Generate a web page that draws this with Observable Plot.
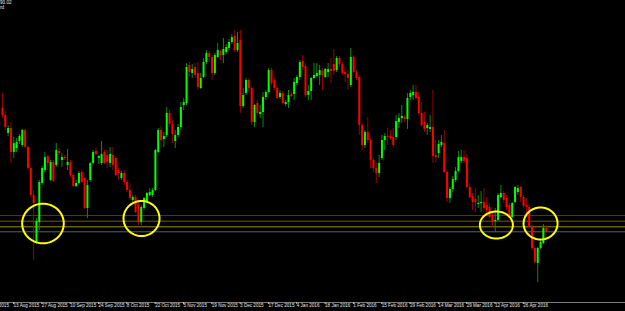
<!DOCTYPE html>
<html><head><meta charset="utf-8">
<script src="https://cdn.jsdelivr.net/npm/d3@7"></script>
<script src="https://cdn.jsdelivr.net/npm/@observablehq/plot@0.6"></script>
<style>
html,body{margin:0;padding:0;background:#000;}
#wrap{position:relative;width:625px;height:311px;overflow:hidden;background:#000;}
#hdr{position:absolute;left:0;top:0;font:4.6px/5px "Liberation Sans",Arial,sans-serif;color:#e8e8e8;white-space:pre;}
</style></head><body>
<div id="wrap"><div id="hdr">90.02
rd</div></div>
<script>
// Daily candles, first bar = 7 Aug 2015 (bar index -4), bar 0 = 13 Aug 2015
const firstBar = -4;
const open = [
109.2,108.5,106.7,107.2,104.8,105.2,105.9,105.5,107.0,105.3,
103.2,100.5,95.7,97.8,101.7,103.0,104.4,102.0,103.8,103.5,
104.9,104.0,104.3,103.5,103.8,102.5,101.4,101.7,102.8,102.2,
99.2,102.0,103.7,104.9,104.2,103.7,104.8,104.5,103.7,104.5,
104.2,103.0,102.2,102.7,101.8,101.0,100.0,100.3,99.5,97.8,
99.2,99.8,100.5,100.5,101.0,104.8,107.0,106.1,106.5,108.7,
107.6,105.9,106.5,107.3,109.5,109.7,113.5,112.7,113.3,112.7,
111.2,112.3,113.8,114.7,114.3,112.7,114.3,114.9,114.5,114.8,
115.2,115.8,116.4,115.0,116.0,109.4,110.7,112.0,111.2,107.8,
109.7,108.6,108.8,110.3,110.8,113.0,112.0,111.2,110.3,110.7,
109.6,109.8,110.6,110.6,111.7,112.3,113.9,113.4,110.5,110.9,
112.2,112.4,112.5,112.9,112.3,112.8,113.1,113.6,113.0,114.2,
113.6,112.8,112.6,111.5,114.3,112.8,112.3,107.5,105.5,106.8,
106.0,104.0,103.2,102.7,104.2,106.0,106.4,106.4,106.3,106.3,
107.8,108.2,108.3,108.1,110.3,110.5,110.8,110.3,108.7,107.8,
107.2,107.1,107.3,104.5,104.7,105.5,105.7,102.8,100.2,101.1,
102.0,102.9,103.9,104.3,104.2,101.3,100.4,100.1,99.6,99.7,
99.8,99.5,99.3,98.5,97.9,98.0,100.3,100.7,100.2,99.5,
98.3,99.8,100.8,101.3,100.3,99.5,99.3,97.3,95.2,93.7,
95.2,95.7,97.2];
const high = [
110.7,108.9,107.5,107.8,106.3,106.2,106.6,107.1,107.1,105.4,
103.3,101.0,98.2,102.0,103.4,104.8,104.5,104.0,104.0,105.7,
105.2,104.7,104.5,105.1,104.0,102.7,102.0,102.9,103.0,102.3,
102.0,103.8,105.0,105.2,104.5,105.9,105.0,105.0,105.3,105.3,
104.4,103.2,102.9,103.0,102.0,101.7,100.5,100.5,99.9,99.5,
100.3,100.8,101.2,101.2,105.1,107.2,107.4,106.8,109.3,109.0,
108.0,107.0,107.6,109.8,110.2,113.7,113.8,113.6,113.7,113.8,
112.7,114.2,115.0,114.9,114.5,114.7,115.7,115.0,116.2,115.6,
116.1,116.6,117.0,116.8,117.0,111.2,112.2,112.2,111.4,109.6,
110.0,109.5,110.8,111.0,113.2,113.2,112.2,111.4,111.0,110.9,
110.0,111.0,110.8,112.2,112.5,114.0,114.5,113.7,111.5,112.3,
113.7,113.7,113.5,113.2,113.2,113.7,114.2,115.1,114.4,114.4,
113.8,113.2,113.0,115.2,114.5,113.0,112.5,107.7,107.0,108.3,
106.2,104.2,103.7,104.5,106.5,106.7,107.2,107.0,107.2,108.5,
108.7,109.5,108.5,110.7,111.0,111.5,111.5,110.8,109.8,108.8,
107.7,108.5,111.0,106.0,106.0,106.5,107.0,103.0,101.3,102.4,
103.3,104.9,105.0,105.0,104.6,101.7,100.7,101.2,100.5,100.9,
101.2,100.3,99.7,98.8,99.2,100.7,101.5,100.9,100.5,99.7,
99.8,101.4,101.5,101.4,100.5,100.2,99.5,97.5,95.3,95.3,
96.0,97.6,97.5];
const low = [
108.2,107.0,106.4,103.7,104.2,104.8,105.6,105.3,105.2,103.0,
100.3,94.0,95.6,97.0,101.5,102.8,103.0,101.9,101.8,103.3,
104.5,103.3,104.0,103.0,102.3,101.3,101.3,101.6,101.7,99.1,
98.2,101.8,103.6,104.5,103.6,103.5,103.6,103.2,103.3,103.0,
102.4,102.0,102.0,101.5,100.8,100.0,99.8,98.7,97.5,97.5,
99.0,99.7,100.4,100.3,100.9,104.7,105.3,105.3,106.3,107.3,
105.7,105.2,106.3,107.0,109.0,109.5,112.3,112.2,112.2,111.0,
111.1,112.2,113.6,113.8,112.0,112.5,114.2,114.0,113.7,114.6,
115.0,115.6,114.8,114.8,108.7,109.2,110.5,110.8,107.5,107.3,
108.5,108.2,107.3,110.0,110.7,111.5,111.0,110.1,110.1,109.6,
109.4,109.2,110.3,110.0,111.5,112.0,113.0,110.3,110.0,110.0,
112.1,112.3,111.5,111.0,112.2,112.3,111.7,112.5,112.8,113.3,
112.5,111.8,111.0,111.3,112.7,112.0,106.5,105.0,105.2,105.7,
103.2,102.8,101.7,102.3,104.0,105.0,105.5,106.0,105.3,106.0,
107.2,107.7,107.8,107.1,110.0,110.0,110.0,108.5,107.3,106.8,
106.5,106.8,103.7,103.8,104.2,105.3,102.7,99.8,99.7,100.8,
101.8,102.8,103.7,103.7,101.2,100.2,99.0,98.8,99.2,98.8,
98.8,98.5,98.2,97.3,96.8,97.9,100.2,99.7,99.0,98.2,
98.2,99.7,100.5,99.8,99.2,98.3,97.2,95.0,93.7,91.8,
95.1,95.6,96.7];
const close = [
108.5,107.3,107.2,104.8,105.7,105.8,106.4,107.0,105.3,103.2,
100.5,99.7,97.9,101.8,103.2,104.3,103.7,103.8,101.9,105.0,
104.7,104.3,104.2,103.8,102.5,101.4,101.7,102.7,101.8,99.2,
101.5,103.7,104.8,104.6,104.4,104.6,103.7,103.8,104.6,103.5,
102.5,102.7,102.7,101.8,101.0,100.2,100.3,98.8,97.8,99.3,
100.2,100.7,100.8,101.0,105.0,107.0,106.0,106.4,108.7,107.6,
106.6,106.5,107.3,109.3,109.8,113.3,112.8,113.1,112.5,111.3,
112.2,113.8,114.7,114.3,112.7,114.5,115.0,114.5,115.1,115.3,
115.8,116.3,115.0,115.7,109.4,110.5,112.0,111.2,107.8,109.5,
108.7,108.8,110.3,110.8,113.0,111.7,111.2,110.2,110.7,109.7,
109.8,110.5,110.4,111.8,112.3,113.8,113.3,110.5,110.9,112.2,
112.5,112.7,113.0,112.5,113.1,113.1,112.9,112.9,114.2,113.6,
112.7,112.6,112.2,114.3,112.8,112.2,107.5,105.5,106.8,106.0,
104.0,103.2,102.7,103.7,106.0,106.4,106.3,106.2,105.5,107.9,
108.2,108.4,108.1,110.2,110.7,110.8,110.2,108.7,107.5,107.1,
107.5,107.3,104.4,104.3,105.6,105.8,102.8,100.2,101.1,102.1,
102.9,104.3,104.3,103.9,101.3,100.3,99.8,99.8,99.7,99.8,
99.2,99.0,98.3,97.8,98.0,100.5,100.7,100.0,99.3,98.3,
99.7,101.3,101.2,100.3,99.4,99.3,97.3,95.2,93.8,95.2,
95.8,97.2,96.8];

// time-axis labels, one every 10 bars
const tickBars = [-10,0,10,20,30,40,50,60,70,80,90,100,110,120,130,140,150,160,170,180];
const tickLabels = ["30 Jul 2015","13 Aug 2015","27 Aug 2015","10 Sep 2015","24 Sep 2015","8 Oct 2015",
  "22 Oct 2015","5 Nov 2015","19 Nov 2015","3 Dec 2015","17 Dec 2015","4 Jan 2016","18 Jan 2016",
  "1 Feb 2016","15 Feb 2016","29 Feb 2016","14 Mar 2016","29 Mar 2016","12 Apr 2016","26 Apr 2016"];

// horizontal support levels
const levels = [98.5, 97.93, 97.37, 96.87];
const levelColors = ["#4a3d0c", "#6e5a12", "#a3841a", "#5b606e"];

// highlighted zones (ellipses): centre bar, centre price, half-width in bars, half-height in price
const circleBar = [10.3, 45.1, 170.4, 186.0];
const circlePrice = [97.7, 98.2, 97.55, 97.7];
const circleHalfBars = [7.35, 6.36, 5.83, 6.0];
const circleHalfPrice = [1.98, 1.75, 1.35, 1.6];

const bars = open.map((o, k) => ({i: firstBar + k, o, h: high[k], l: low[k], c: close[k]}));
const ellipsePts = circleBar.flatMap((cx, k) => d3.range(0, 73).map(j => {
  const a = j / 72 * 2 * Math.PI;
  return {k, x: cx + circleHalfBars[k] * Math.cos(a), y: circlePrice[k] + circleHalfPrice[k] * Math.sin(a)};
}));
const labelOf = new Map(tickBars.map((t, k) => [t, tickLabels[k]]));

const pxPerBar = 2.832, firstPx = 13.3, W = 625, H = 311;
const yMin = 89.8, yMax = 120;
const up = d => d.c >= d.o;

const chart = Plot.plot({
  width: W, height: H,
  marginTop: 0, marginRight: 0, marginBottom: 9, marginLeft: 0,
  style: {background: "#000", color: "#e6e6e6", overflow: "visible"},
  x: {domain: [-firstPx / pxPerBar, (W - firstPx) / pxPerBar], axis: null},
  y: {domain: [yMin, yMax], axis: null},
  color: {type: "identity"},
  marks: [
    Plot.ruleY(levels, {y: d => d, stroke: (d, k) => levelColors[k], strokeWidth: 1}),
    Plot.ruleY([yMin], {stroke: "#7c7c7c", strokeWidth: 1}),
    Plot.ruleX(bars, {x: "i", y1: "l", y2: "h", stroke: d => up(d) ? "#0c8c0c" : "#9c0000", strokeWidth: 1}),
    Plot.ruleX(bars, {x: "i", y1: "o", y2: "c", stroke: d => up(d) ? "#00ff00" : "#ff0000", strokeWidth: 2}),
    Plot.line(ellipsePts, {x: "x", y: "y", z: "k", stroke: "#ffff00", strokeWidth: 2, curve: "linear-closed"}),
    Plot.axisX(tickBars.map(t => t - 0.45), {
      anchor: "bottom", tickSize: 2, tickPadding: -0.7, textAnchor: "start", dx: 1,
      tickFormat: d => labelOf.get(Math.round(d + 0.45)),
      fontSize: 4.6, fontFamily: "'Liberation Sans',Arial,sans-serif",
      stroke: "#b8b8b8"
    })
  ]
});
document.getElementById("wrap").prepend(chart);
</script>
</body></html>
